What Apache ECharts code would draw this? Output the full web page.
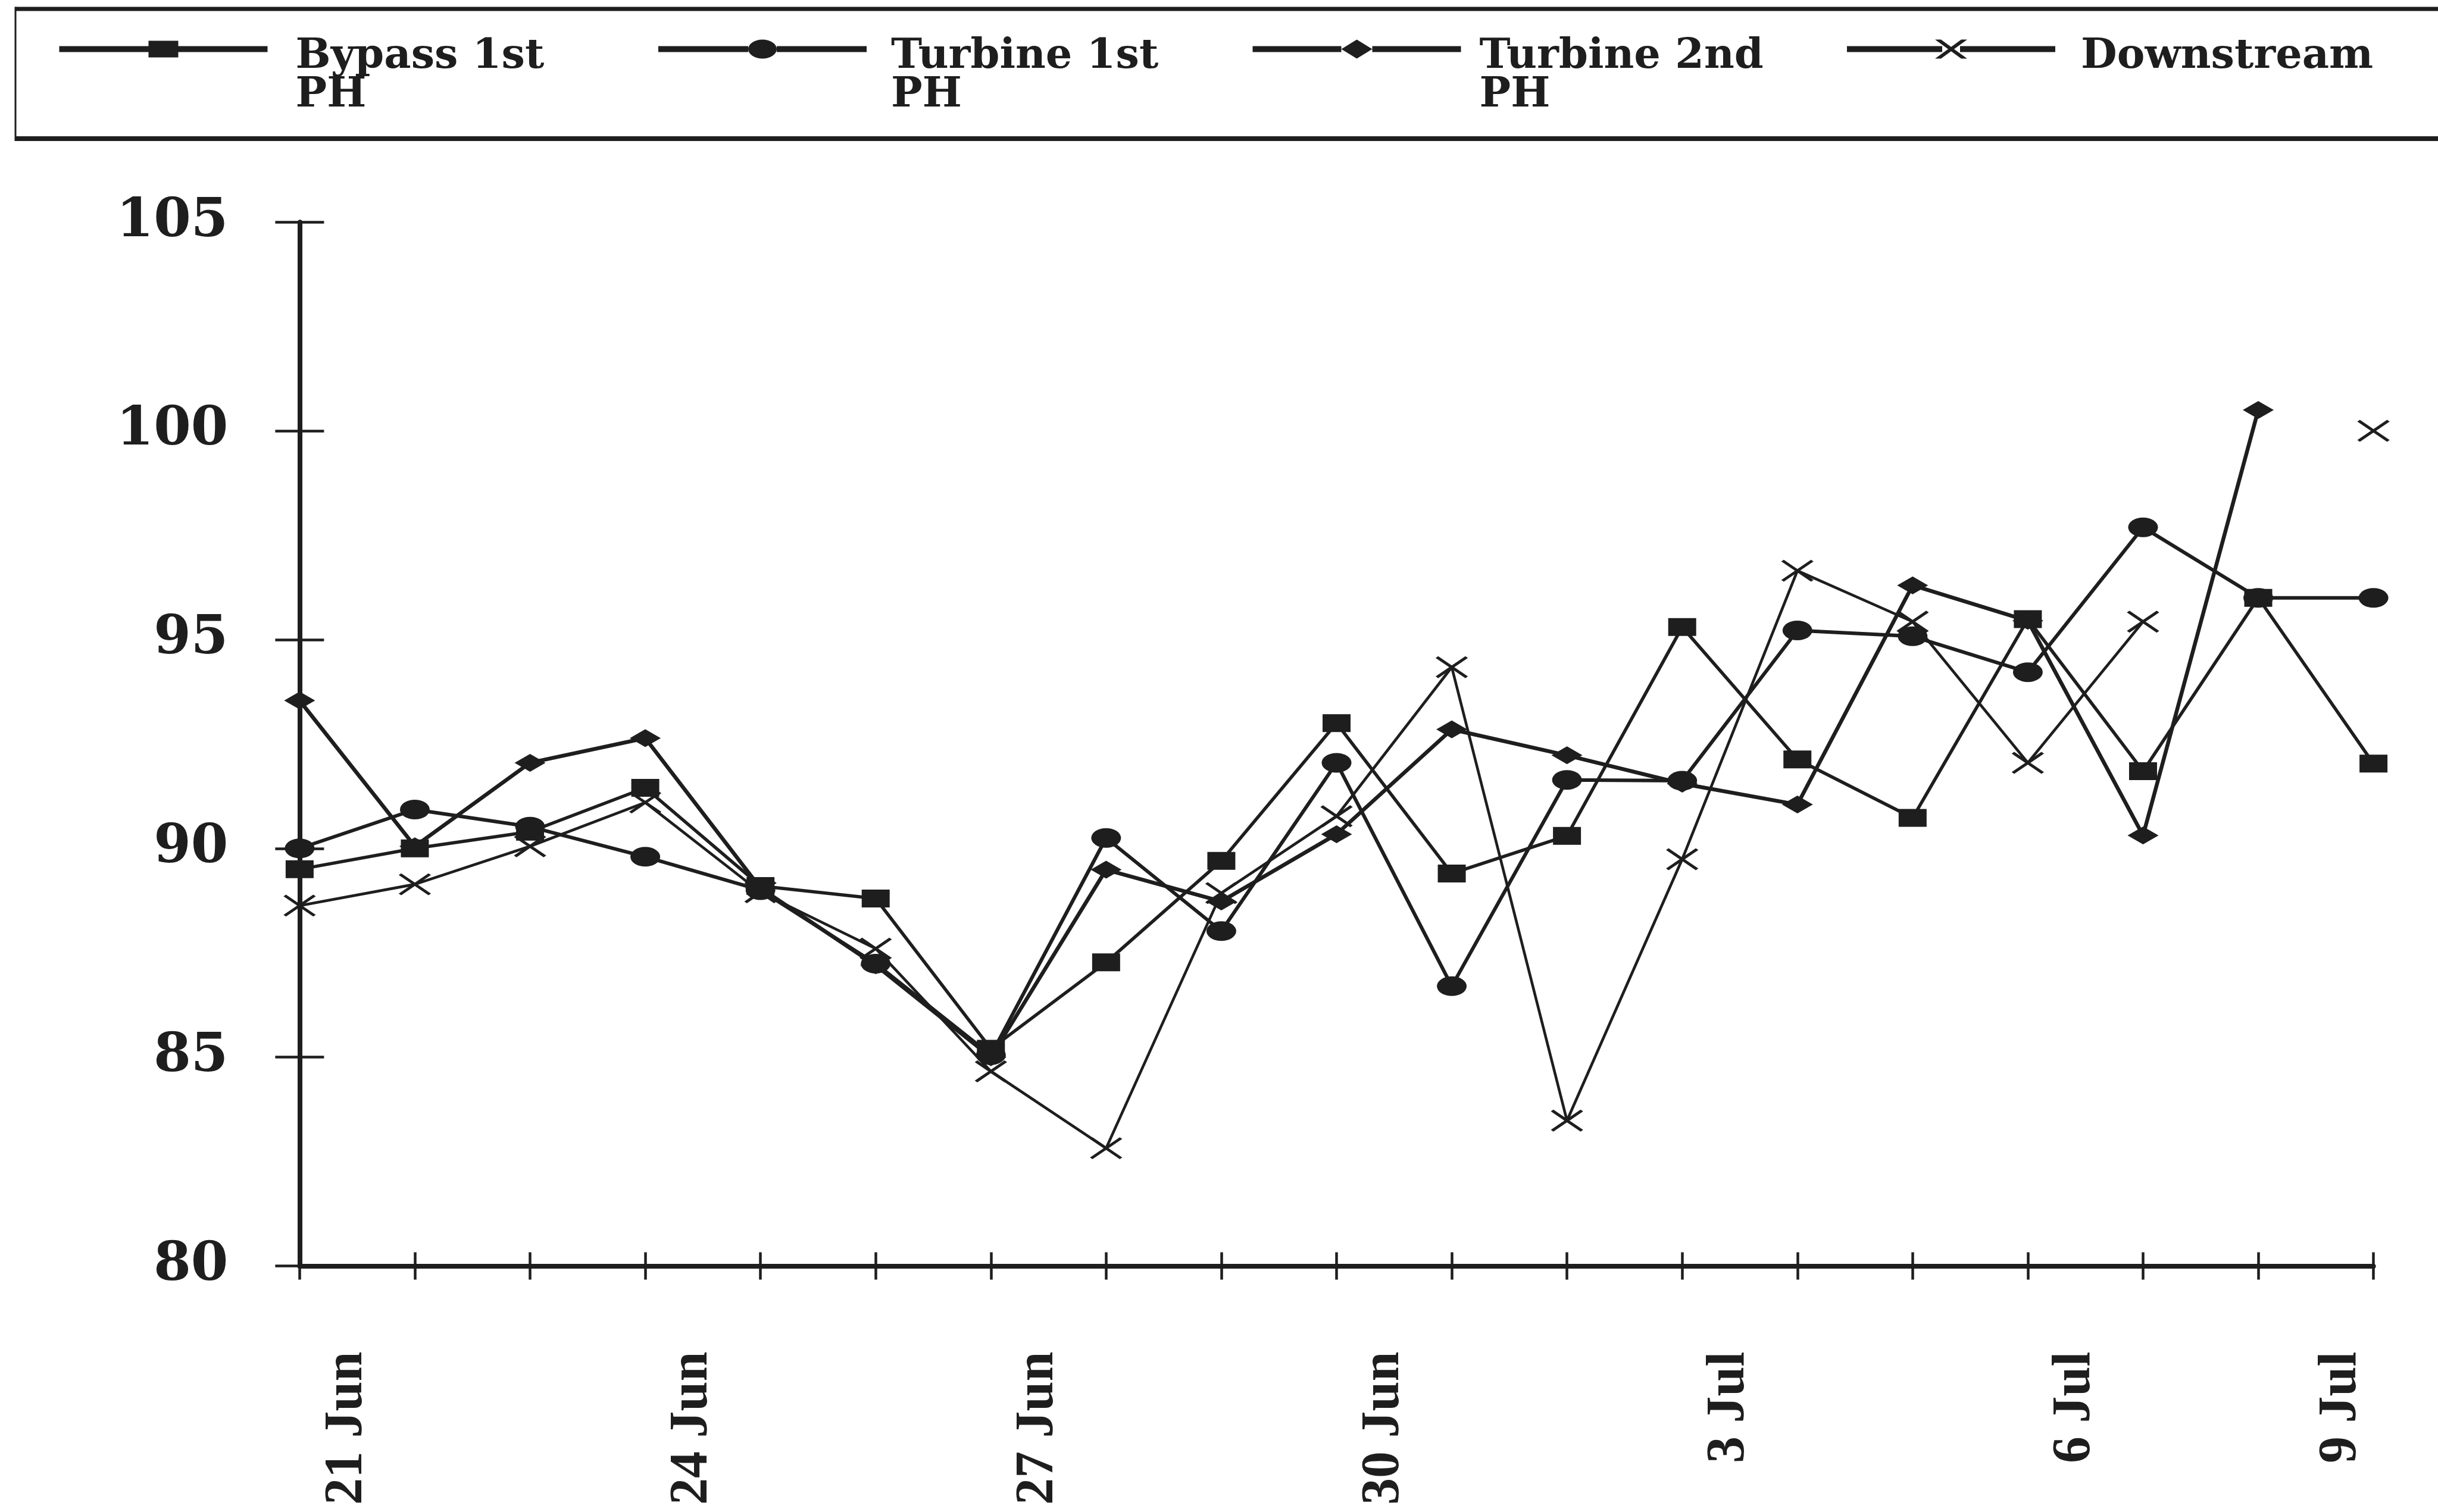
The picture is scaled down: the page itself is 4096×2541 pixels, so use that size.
<!DOCTYPE html>
<html>
<head>
<meta charset="utf-8">
<title>PH readings, 21 Jun – 9 Jul</title>
<script src="https://cdn.jsdelivr.net/npm/echarts@6.0.0/dist/echarts.min.js"></script>
<style>
  html, body { margin: 0; padding: 0; background: #ffffff; }
  #chart { width: 4096px; height: 2541px; }
</style>
</head>
<body>
<div id="chart"></div>
<script>
// ---- data -------------------------------------------------------------
const days = ['21 Jun', '22 Jun', '23 Jun', '24 Jun', '25 Jun', '26 Jun', '27 Jun', '28 Jun',
              '29 Jun', '30 Jun', '1 Jul', '2 Jul', '3 Jul', '4 Jul', '5 Jul', '6 Jul',
              '7 Jul', '8 Jul', '9 Jul'];
const yTicks = [80, 85, 90, 95, 100, 105];

const bypass1stPH  = [89.5, 90.0, 90.4, 91.45, 89.1, 88.8, 85.2, 87.27, 89.7, 93.0,
                      89.4, 90.3, 95.3, 92.13, 90.73, 95.49, 91.85, 96.0, 92.03];
const turbine1stPH = [90.0, 90.93, 90.52, 89.8, 89.0, 87.24, 85.05, 90.25, 88.02, 92.05,
                      86.7, 91.64, 91.62, 95.22, 95.08, 94.22, 97.69, 96.0, 96.0];
const turbine2ndPH = [93.54, 90.05, 92.05, 92.64, 89.05, 87.2, 85.0, 89.49, 88.73, 90.34,
                      92.85, 92.23, 91.55, 91.05, 96.3, 95.45, 90.31, 100.5, null];
const downstream   = [88.63, 89.14, 90.05, 91.1, 88.95, 87.6, 84.66, 82.82, 88.93, 90.77,
                      94.34, 83.48, 89.74, 96.65, 95.43, 92.05, 95.43, null, 100.0];

const seriesNames = ['Bypass 1st PH', 'Turbine 1st PH', 'Turbine 2nd PH', 'Downstream'];
const legendLines = [['Bypass 1st', 'PH'], ['Turbine 1st', 'PH'], ['Turbine 2nd', 'PH'], ['Downstream', '']];

// ---- styling ----------------------------------------------------------
const ink = '#1e1e1e';
const slab = "'DejaVu Serif', 'Liberation Serif', serif";
const dateFont = "'Liberation Serif', 'DejaVu Serif', serif";

// legend keys: a line with the series marker in the middle (350 x 32)
const legendIcons = [
  'path://M0,11H150V21H0Z M150,2H200V30H150Z M200,11H350V21H200Z',
  'path://M0,11H151V21H0Z M151,16A24,16 0 1,1 199,16A24,16 0 1,1 151,16Z M199,11H350V21H199Z',
  'path://M0,11H149V21H0Z M149,16L175,0L201,16L175,32Z M201,11H350V21H201Z',
  'path://M0,11H160V21H0Z M190,11H350V21H190Z M148,0H158L202,32H192Z M192,0H202L158,32H148Z'
];
const legendLeft = [99.5, 1106, 2104.5, 3103];
const legendTextGap = [42, 36, 26, 38];

const seriesData = [bypass1stPH, turbine1stPH, turbine2ndPH, downstream];
const symbols = ['rect', 'circle', 'diamond', 'path://M0,0L10,10M10,0L0,10'];
const symbolSizes = [[47, 30], [50, 33], [52, 30], [50, 34]];
const lineWidths = [5.5, 6, 6.5, 4.6];
const seriesZ = [2, 4, 3, 2];

const legends = seriesNames.map((name, i) => ({
  data: [{ name: name, icon: legendIcons[i] }],
  left: legendLeft[i],
  top: 12.5,
  padding: 0,
  itemWidth: 350,
  itemHeight: 32,
  itemGap: 0,
  selectedMode: false,
  itemStyle: { color: ink, borderWidth: 0 },
  formatter: () => '{s| }\n{t|' + legendLines[i][0] + '}\n{t|' + (legendLines[i][1] || ' ') + '}',
  textStyle: {
    color: ink,
    rich: {
      s: { fontSize: 10, lineHeight: 91, padding: [0, 0, 0, legendTextGap[i]] },
      t: { fontFamily: slab, fontWeight: 'bold', fontSize: 70, lineHeight: 65, color: ink,
           padding: [0, 0, 0, legendTextGap[i]] }
    }
  }
}));

const series = seriesNames.map((name, i) => {
  const isCross = i === 3;
  return {
    type: 'line',
    name: name,
    data: seriesData[i],
    xAxisIndex: 0,
    yAxisIndex: 0,
    z: seriesZ[i],
    symbol: symbols[i],
    symbolSize: symbolSizes[i],
    showSymbol: true,
    showAllSymbol: true,
    connectNulls: false,
    clip: false,
    lineStyle: { color: ink, width: lineWidths[i] },
    itemStyle: isCross
      ? { color: ink, borderColor: ink, borderWidth: 5 }
      : { color: ink, borderWidth: 0 },
    emphasis: { disabled: true }
  };
});

const chart = echarts.init(document.getElementById('chart'), null, { renderer: 'canvas' });

chart.setOption({
  backgroundColor: '#ffffff',
  animation: false,
  legend: legends,
  grid: {
    left: 503.4, right: 108.4, top: 373.2, bottom: 413.5,
    containLabel: false,
    outerBoundsMode: 'none'
  },
  xAxis: [
    {
      type: 'category',
      position: 'bottom',
      data: days,
      boundaryGap: false,
      axisLine: { show: true, onZero: false, lineStyle: { color: ink, width: 8 } },
      axisTick: { show: true, interval: 0, inside: false, length: 23, lineStyle: { color: ink, width: 4.5 } },
      splitLine: { show: false },
      axisLabel: {
        show: true,
        interval: 2,
        rotate: 90,
        margin: 144,
        color: ink,
        formatter: (v, i) => (i === days.length - 1 ? '{b|' : '{a|') + v + '}',
        rich: {
          a: { fontFamily: dateFont, fontWeight: 'bold', fontSize: 90, color: ink, padding: [160, 0, 0, 0] },
          b: { fontFamily: dateFont, fontWeight: 'bold', fontSize: 90, color: ink, padding: [0, 0, 108, 0] }
        }
      }
    },
    {
      // inner half of the crossing tick marks
      type: 'category',
      position: 'bottom',
      data: days,
      boundaryGap: false,
      axisLine: { show: false, onZero: false },
      axisTick: { show: true, interval: 0, inside: true, length: 23, lineStyle: { color: ink, width: 4.5 } },
      axisLabel: { show: false },
      splitLine: { show: false }
    }
  ],
  yAxis: [
    {
      type: 'value',
      position: 'left',
      min: yTicks[0],
      max: yTicks[yTicks.length - 1],
      interval: yTicks[1] - yTicks[0],
      axisLine: { show: true, onZero: false, lineStyle: { color: ink, width: 8 } },
      axisTick: { show: true, inside: false, length: 41, lineStyle: { color: ink, width: 4.5 } },
      splitLine: { show: false },
      axisLabel: {
        show: true,
        margin: 120,
        color: ink,
        fontFamily: slab,
        fontWeight: 'bold',
        fontSize: 90
      }
    },
    {
      type: 'value',
      position: 'left',
      offset: 0,
      min: yTicks[0],
      max: yTicks[yTicks.length - 1],
      interval: yTicks[1] - yTicks[0],
      axisLine: { show: false, onZero: false },
      axisTick: { show: true, inside: true, length: 41, lineStyle: { color: ink, width: 4.5 } },
      axisLabel: { show: false },
      splitLine: { show: false }
    }
  ],
  graphic: [
    // frame around the key (open on the right)
    { type: 'line', silent: true, shape: { x1: 26, y1: 15, x2: 4200, y2: 15 }, style: { stroke: ink, lineWidth: 7 } },
    { type: 'line', silent: true, shape: { x1: 26, y1: 233, x2: 4200, y2: 233 }, style: { stroke: ink, lineWidth: 8 } },
    { type: 'line', silent: true, shape: { x1: 26, y1: 11.5, x2: 26, y2: 237 }, style: { stroke: ink, lineWidth: 3 } }
  ],
  series: series
});
</script>
</body>
</html>
